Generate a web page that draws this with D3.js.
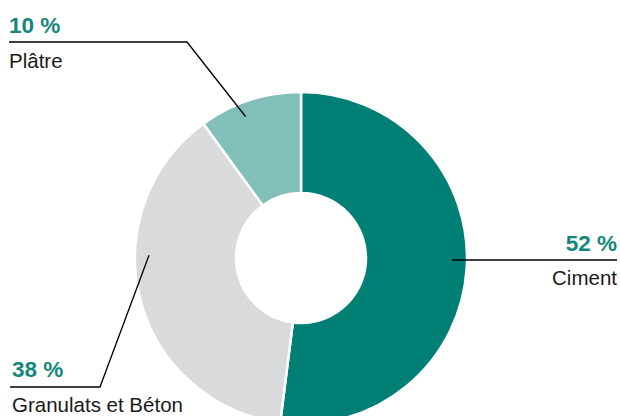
<!DOCTYPE html>
<html>
<head>
<meta charset="utf-8">
<script src="https://cdn.jsdelivr.net/npm/d3@7.9.0/dist/d3.min.js"></script>
<style>
  html, body { margin: 0; padding: 0; background: #fff; }
  svg { display: block; }
</style>
</head>
<body>
<div id="chart"></div>
<script>
// ---------------- data ----------------
const categories = ["Ciment", "Granulats et Béton", "Plâtre"];
const shares = [52, 38, 10];
const colors = ["#008075", "#d9dadb", "#82bfb9"];

// ---------------- layout ----------------
const width = 620, height = 416;
const cx = 301, cy = 258;
const outerR = 166, innerR = 65;

// leader line: angle (deg) of the anchor inside the slice, elbow point, label side
const leaders = [
  { angle: 90.8, elbow: [617, 260], end: [452, 260], align: "end",   x: 617, dy: 25 },
  { angle: 271,  elbow: [100, 387], end: [10, 387],  align: "start", x: 12,  dy: 24.5 },
  { angle: 338.6, elbow: [187, 42], end: [9, 42],    align: "start", x: 9,   dy: 26 }
];

const svg = d3.select("#chart").append("svg")
  .attr("width", width).attr("height", height);

const g = svg.append("g").attr("transform", `translate(${cx},${cy})`);

const pie = d3.pie().sort(null).value(d => d.value);
const arc = d3.arc().innerRadius(innerR).outerRadius(outerR);

const rows = categories.map((c, i) => ({ name: c, value: shares[i], color: colors[i] }));
const arcs = pie(rows);

g.selectAll("path").data(arcs).enter().append("path")
  .attr("d", arc)
  .attr("fill", d => d.data.color)
  .attr("stroke", "#fff")
  .attr("stroke-width", 2.5);

// leader lines + labels
const font = "'Liberation Sans', Arial, sans-serif";
arcs.forEach((d, i) => {
  const L = leaders[i];
  const p = d3.pointRadial(L.angle * Math.PI / 180, 152);
  const anchor = [cx + p[0], cy + p[1]];
  const pts = i === 0 ? [anchor, L.end, L.elbow] : [anchor, L.elbow, L.end];
  svg.append("polyline")
    .attr("points", pts.map(q => q.join(",")).join(" "))
    .attr("fill", "none")
    .attr("stroke", "#000")
    .attr("stroke-width", 1.3);

  const y = L.end[1];
  svg.append("text")
    .attr("x", L.x).attr("y", y - (i === 1 ? 10 : 9.5))
    .attr("text-anchor", L.align)
    .attr("font-family", font)
    .attr("font-weight", "bold")
    .attr("font-size", 22.5)
    .attr("fill", "#13877c")
    .text(`${d.data.value} %`);

  svg.append("text")
    .attr("x", L.x).attr("y", y + L.dy)
    .attr("text-anchor", L.align)
    .attr("font-family", font)
    .attr("font-size", 20.5)
    .attr("fill", "#1a1a1a")
    .text(d.data.name);
});
</script>
</body>
</html>
